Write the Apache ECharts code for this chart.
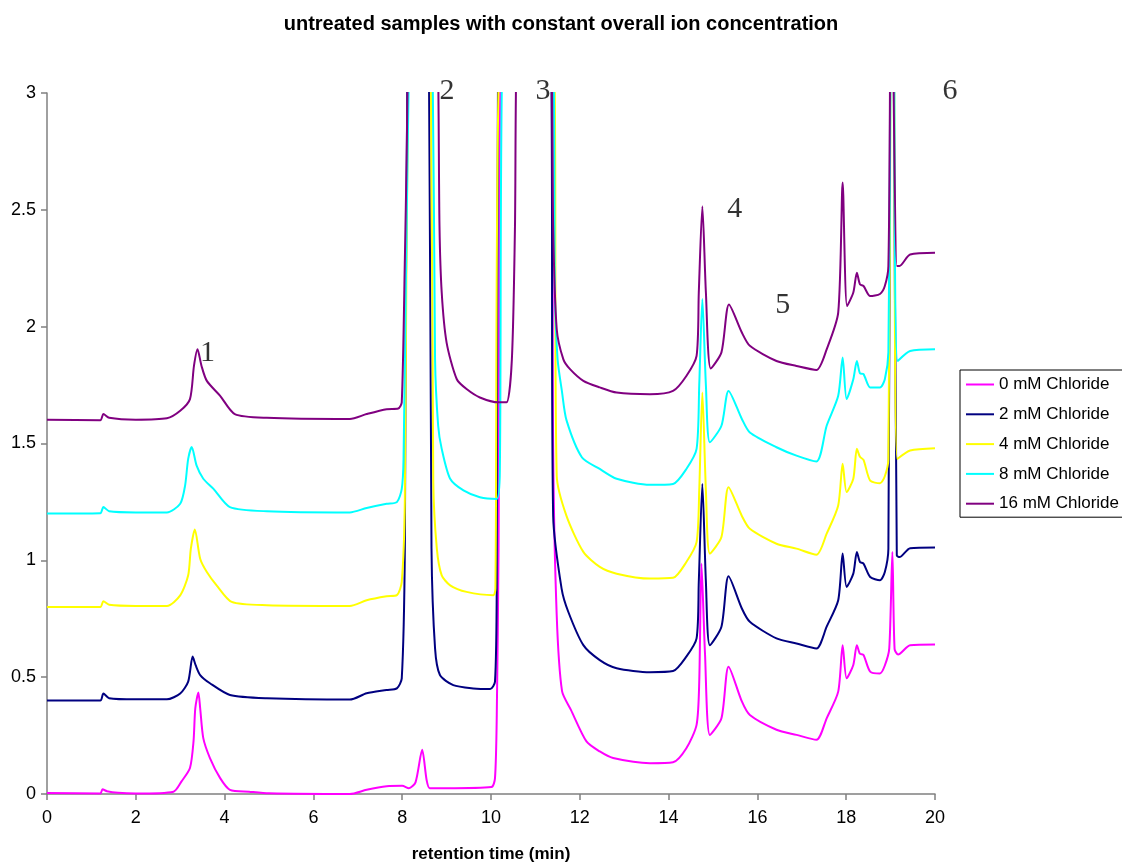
<!DOCTYPE html>
<html>
<head>
<meta charset="utf-8">
<script src="https://cdn.jsdelivr.net/npm/echarts@6/dist/echarts.min.js"></script>
<style>
html,body{margin:0;padding:0;background:#fff;}
#chart{width:1122px;height:868px;}
</style>
</head>
<body>
<div id="chart"></div>
<script>
// Series names
const seriesNames = ['0 mM Chloride', '2 mM Chloride', '4 mM Chloride', '8 mM Chloride', '16 mM Chloride'];

// [retention time (min), signal] — values above 3 are off-scale (clipped)
const chloride0 = [[0,0.004],[1.2,0.002],[1.25,0.02],[1.35,0.012],[1.6,0.005],[2.0,0.002],[2.85,0.01],[3.03,0.054],[3.22,0.111],[3.3,0.225],[3.34,0.367],[3.41,0.434],[3.45,0.367],[3.52,0.239],[3.67,0.154],[3.9,0.068],[4.12,0.018],[4.55,0.01],[5.0,0.003],[6.82,0.0],[7.2,0.018],[7.65,0.033],[8.0,0.035],[8.15,0.025],[8.3,0.05],[8.45,0.189],[8.55,0.06],[8.62,0.025],[9.0,0.025],[10.01,0.03],[10.09,0.068],[10.13,0.338],[10.17,1.05],[10.22,3.2],[10.8,5],[11.36,3.2],[11.4,1.477],[11.48,0.765],[11.6,0.44],[11.8,0.36],[12.15,0.225],[12.45,0.182],[12.75,0.154],[13.58,0.132],[14.1,0.136],[14.4,0.196],[14.63,0.296],[14.69,0.48],[14.74,0.986],[14.82,0.6],[14.93,0.253],[15.19,0.324],[15.35,0.545],[15.65,0.396],[15.83,0.338],[16.43,0.275],[16.88,0.253],[17.33,0.232],[17.56,0.324],[17.82,0.438],[17.92,0.637],[18.01,0.495],[18.16,0.552],[18.24,0.637],[18.31,0.6],[18.39,0.595],[18.54,0.524],[18.76,0.516],[18.87,0.55],[18.97,0.623],[19.04,1.036],[19.09,0.62],[19.17,0.597],[19.44,0.637],[20,0.64]];

const chloride2 = [[0,0.4],[1.2,0.4],[1.27,0.43],[1.4,0.41],[2.0,0.405],[2.7,0.405],[3.0,0.43],[3.18,0.481],[3.28,0.588],[3.35,0.55],[3.45,0.509],[3.67,0.474],[4.12,0.424],[4.95,0.41],[6.82,0.404],[7.2,0.431],[7.65,0.445],[7.88,0.452],[7.99,0.495],[8.06,1.05],[8.12,3.2],[8.4,5],[8.6,3.2],[8.66,1.05],[8.74,0.623],[8.85,0.509],[9.15,0.466],[9.6,0.452],[9.98,0.449],[10.09,0.481],[10.13,0.908],[10.16,3.2],[10.8,5],[11.35,3.2],[11.4,1.19],[11.59,0.879],[11.74,0.78],[12.08,0.637],[12.45,0.573],[12.83,0.538],[13.58,0.521],[14.1,0.526],[14.4,0.588],[14.63,0.666],[14.68,0.908],[14.76,1.327],[14.84,0.908],[14.93,0.637],[15.19,0.716],[15.35,0.932],[15.65,0.794],[15.83,0.737],[16.43,0.666],[16.88,0.644],[17.33,0.623],[17.56,0.716],[17.82,0.829],[17.92,1.029],[18.01,0.886],[18.16,0.943],[18.24,1.036],[18.31,0.993],[18.39,0.986],[18.54,0.929],[18.76,0.915],[18.87,0.95],[18.95,1.05],[18.99,3.2],[19.03,5],[19.07,3.2],[19.14,1.021],[19.2,1.014],[19.44,1.052],[20,1.055]];

const chloride4 = [[0,0.8],[1.2,0.8],[1.27,0.825],[1.4,0.81],[2.0,0.805],[2.7,0.805],[3.0,0.85],[3.18,0.936],[3.24,1.05],[3.33,1.132],[3.45,1.007],[3.6,0.95],[3.82,0.893],[4.16,0.822],[4.95,0.808],[6.82,0.805],[7.2,0.829],[7.65,0.846],[7.88,0.851],[7.99,0.908],[8.06,1.263],[8.14,3.2],[8.4,5],[8.64,3.2],[8.7,1.335],[8.78,1.05],[8.89,0.936],[9.08,0.893],[9.45,0.865],[10.05,0.851],[10.1,0.879],[10.19,3.2],[10.8,5],[11.42,3.2],[11.48,1.363],[11.7,1.19],[12.08,1.036],[12.45,0.972],[12.83,0.943],[13.58,0.922],[14.1,0.925],[14.4,0.993],[14.63,1.078],[14.69,1.3],[14.76,1.718],[14.84,1.3],[14.93,1.029],[15.19,1.1],[15.35,1.313],[15.65,1.19],[15.83,1.135],[16.43,1.071],[16.88,1.05],[17.33,1.024],[17.56,1.114],[17.82,1.235],[17.92,1.413],[18.01,1.292],[18.16,1.349],[18.24,1.477],[18.31,1.443],[18.39,1.43],[18.54,1.341],[18.76,1.33],[18.87,1.36],[18.95,1.434],[19.0,3.2],[19.04,5],[19.08,3.2],[19.15,1.434],[19.44,1.47],[20,1.48]];

const chloride8 = [[0,1.2],[1.2,1.202],[1.27,1.228],[1.4,1.21],[2.0,1.205],[2.7,1.205],[3.0,1.242],[3.11,1.32],[3.18,1.434],[3.26,1.485],[3.37,1.405],[3.52,1.349],[3.75,1.306],[4.12,1.228],[4.95,1.21],[6.82,1.205],[7.2,1.224],[7.65,1.242],[7.88,1.249],[7.99,1.306],[8.03,1.434],[8.09,2.29],[8.16,3.2],[8.4,5],[8.68,3.2],[8.74,1.86],[8.81,1.576],[8.89,1.477],[9.08,1.349],[9.38,1.299],[9.75,1.27],[10.13,1.263],[10.2,1.4],[10.26,3.2],[10.8,5],[11.4,3.2],[11.44,2.146],[11.5,1.86],[11.6,1.72],[11.7,1.6],[12.05,1.44],[12.45,1.391],[12.83,1.349],[13.58,1.323],[14.1,1.327],[14.4,1.391],[14.63,1.477],[14.69,1.75],[14.76,2.118],[14.84,1.75],[14.93,1.505],[15.19,1.576],[15.35,1.725],[15.65,1.605],[15.83,1.547],[16.43,1.484],[16.88,1.448],[17.33,1.423],[17.56,1.576],[17.82,1.704],[17.92,1.868],[18.01,1.69],[18.16,1.775],[18.24,1.853],[18.31,1.8],[18.39,1.797],[18.54,1.74],[18.76,1.74],[18.87,1.775],[18.95,1.89],[19.0,3.2],[19.04,5],[19.08,3.2],[19.16,1.853],[19.44,1.896],[20,1.903]];

const chloride16 = [[0,1.602],[1.2,1.6],[1.27,1.626],[1.4,1.61],[2.0,1.602],[2.7,1.608],[3.0,1.64],[3.22,1.69],[3.31,1.832],[3.39,1.903],[3.48,1.832],[3.6,1.768],[3.9,1.704],[4.23,1.626],[4.95,1.61],[6.82,1.605],[7.2,1.626],[7.65,1.647],[7.91,1.65],[7.99,1.676],[8.06,2.29],[8.1,2.72],[8.14,3.2],[8.5,5],[8.8,3.2],[8.84,2.43],[8.89,2.146],[9.0,1.932],[9.23,1.775],[9.45,1.733],[9.75,1.697],[10.17,1.676],[10.35,1.676],[10.47,1.86],[10.54,2.43],[10.58,3.2],[11.0,5],[11.36,3.2],[11.4,2.43],[11.48,1.99],[11.63,1.86],[11.78,1.818],[12.08,1.768],[12.45,1.74],[12.83,1.718],[13.58,1.711],[14.1,1.725],[14.4,1.789],[14.63,1.875],[14.68,2.146],[14.76,2.515],[14.84,2.146],[14.95,1.821],[15.19,1.89],[15.36,2.095],[15.65,1.975],[15.83,1.918],[16.43,1.853],[16.88,1.832],[17.33,1.815],[17.56,1.903],[17.82,2.06],[17.92,2.617],[18.02,2.088],[18.16,2.146],[18.24,2.231],[18.31,2.181],[18.39,2.174],[18.54,2.131],[18.76,2.14],[18.87,2.174],[18.95,2.26],[18.99,3.2],[19.02,5],[19.06,3.2],[19.14,2.26],[19.2,2.26],[19.44,2.309],[20,2.316]];

// Peak annotations: [time, signal, label]
const peakLabels = [[3.615,1.886,'1'],[9.01,3.01,'2'],[11.17,3.01,'3'],[15.49,2.505,'4'],[16.57,2.091,'5'],[20.34,3.01,'6']];

const seriesData = [chloride0, chloride2, chloride4, chloride8, chloride16];
const colors = ['#FF00FF', '#000080', '#FFFF00', '#00FFFF', '#800080'];

const chart = echarts.init(document.getElementById('chart'), null, {renderer: 'canvas'});

const lineSeries = seriesNames.map((name, i) => ({
  name: name,
  type: 'line',
  data: seriesData[i],
  showSymbol: false,
  symbol: 'none',
  clip: true,
  smooth: 0.25,
  lineStyle: {color: colors[i], width: 2},
  itemStyle: {color: colors[i]},
  silent: true,
  z: 2 + i
}));

const option = {
  animation: false,
  backgroundColor: '#ffffff',
  textStyle: {fontFamily: '"Liberation Sans", Arial, sans-serif'},
  title: {
    text: 'untreated samples with constant overall ion concentration',
    left: 'center',
    top: 9,
    textStyle: {fontSize: 20, fontWeight: 'bold', color: '#000', fontFamily: '"Liberation Sans", Arial, sans-serif'}
  },
  grid: {left: 47, right: 187, top: 93, bottom: 72, containLabel: false},
  legend: {
    data: seriesNames,
    orient: 'vertical',
    left: 960,
    top: 370,
    padding: [6, 12, 5, 6],
    itemWidth: 28,
    itemHeight: 2,
    itemGap: 12.8,
    itemStyle: {borderWidth: 0},
    icon: 'rect',
    borderColor: '#000',
    borderWidth: 1,
    borderRadius: 0,
    backgroundColor: '#fff',
    textStyle: {fontSize: 17, color: '#000', lineHeight: 17, padding: [0, 0, 0, 0]},
    selectedMode: false
  },
  xAxis: {
    type: 'value',
    min: 0, max: 20, interval: 2,
    name: 'retention time (min)',
    nameLocation: 'middle',
    nameGap: 52,
    nameTextStyle: {fontSize: 17, fontWeight: 'bold', color: '#000'},
    axisLine: {show: true, onZero: false, lineStyle: {color: '#808080', width: 1.5}},
    axisTick: {show: true, inside: false, length: 6, lineStyle: {color: '#808080', width: 1.5}},
    axisLabel: {fontSize: 18, color: '#000', margin: 15},
    splitLine: {show: false}
  },
  yAxis: {
    type: 'value',
    min: 0, max: 3, interval: 0.5,
    axisLine: {show: true, onZero: false, lineStyle: {color: '#808080', width: 1.5}},
    axisTick: {show: true, inside: false, length: 6, lineStyle: {color: '#808080', width: 1.5}},
    axisLabel: {fontSize: 18, color: '#000', margin: 11},
    splitLine: {show: false}
  },
  series: lineSeries.concat([{
    name: 'peaks',
    type: 'scatter',
    data: peakLabels,
    symbolSize: 0,
    clip: false,
    silent: true,
    z: 20,
    label: {
      show: true,
      position: 'inside',
      formatter: p => p.value[2],
      fontFamily: '"Liberation Serif", "Times New Roman", serif',
      fontSize: 30,
      color: '#000'
    }
  }])
};

chart.setOption(option);
</script>
</body>
</html>
